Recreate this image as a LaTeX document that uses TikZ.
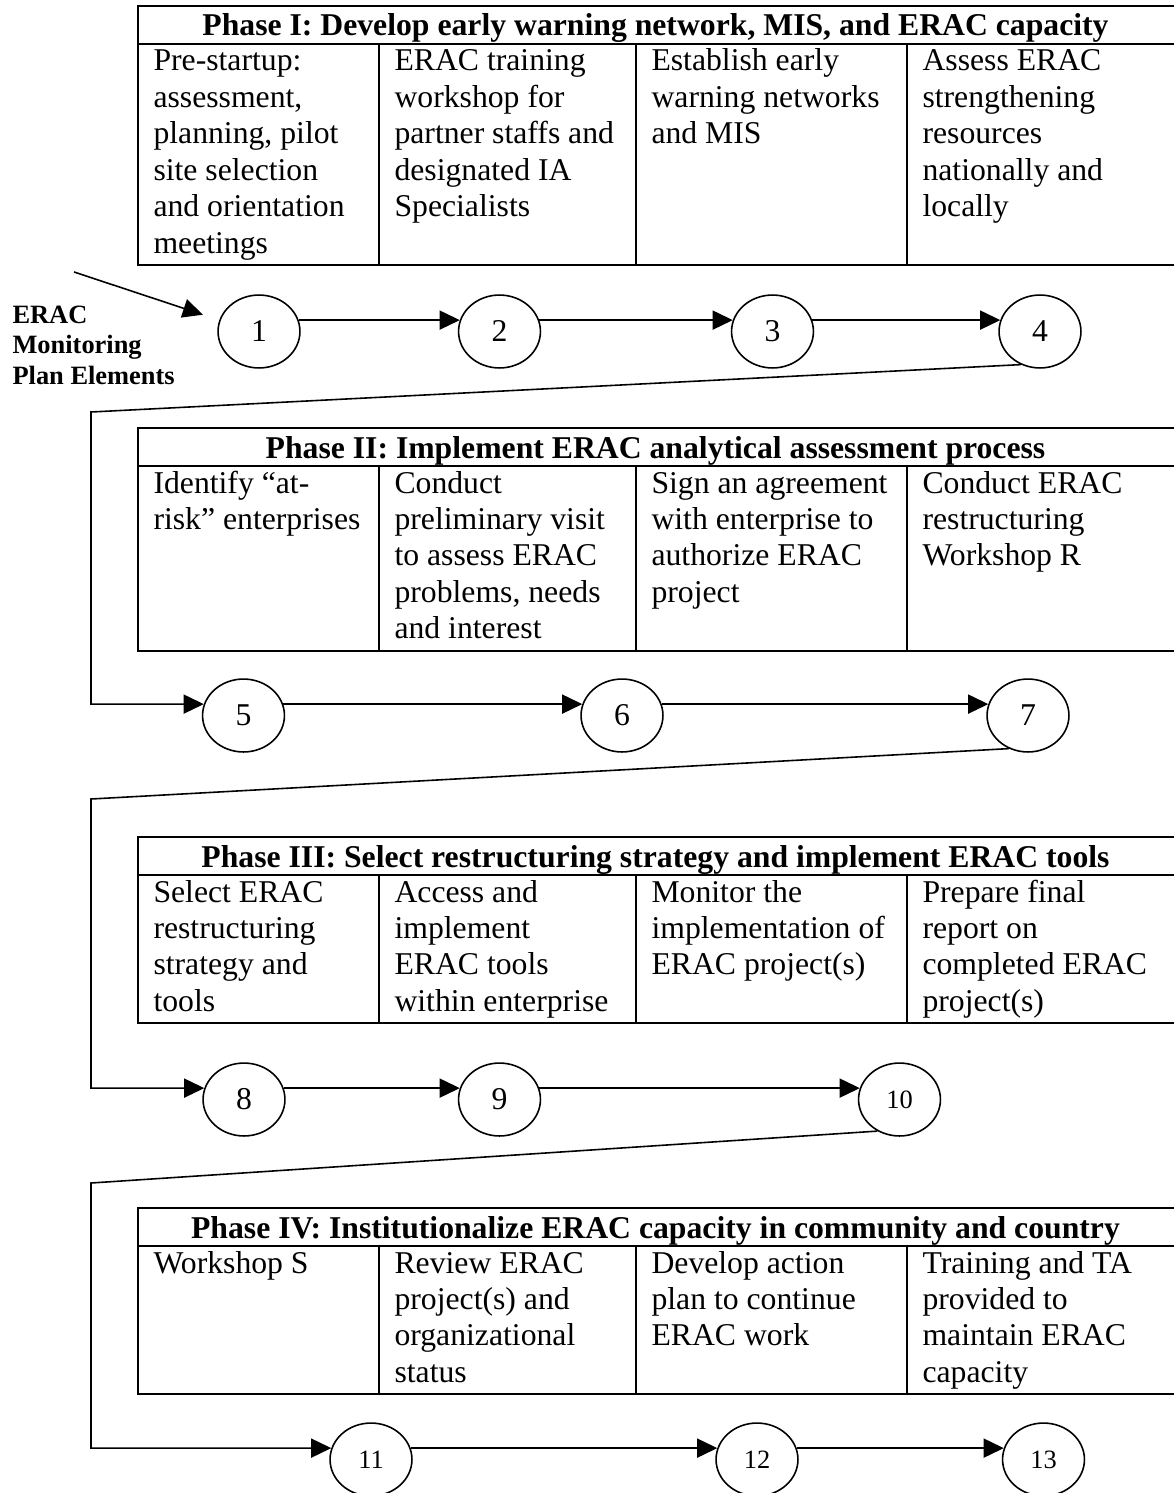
\documentclass[tikz,border=0pt]{standalone}
\usepackage{fontspec}
\setmainfont{Liberation Serif}
\usepackage{tikz}
\usetikzlibrary{positioning,shapes.geometric,arrows.meta,calc}
\tikzstyle{stage} = [ellipse, draw, line width=0.6pt, minimum width=31pt, %
   minimum height=27.6pt, inner sep=0pt, font=\fontsize{12}{13.8}\selectfont]
\tikzstyle{stagesmall} = [stage, font=\fontsize{10}{12}\selectfont]
\tikzstyle{cell} = [anchor=base west, text width=130pt, align=flush left, inner sep=0pt, %
   font=\fontsize{12}{13.8}\selectfont]
\tikzstyle{head} = [anchor=base, inner sep=0pt, font=\fontsize{12}{13.8}\selectfont\bfseries]
\tikzstyle{frame} = [draw, line width=0.8pt]
\tikzstyle{line} = [draw, line width=0.6pt, -{Triangle[length=7.6pt,width=7.2pt]}]

\begin{document}
\begin{tikzpicture}[x=0.3785pt, y=-0.3785pt]
      \useasboundingbox (0,0) rectangle (1173,1493);

      % PHASE I %%%%%%%%%%%%%%%%%%%%%%%%%%%%%%%%%%%%%%%%%%%%%%%%%%%%%%%%%%
         \draw[frame] (138,6) rectangle (1180,265);
         \draw[frame] (138,44) -- (1180,44);
         \draw[frame] (379,44) -- (379,265) (636,44) -- (636,265) (907,44) -- (907,265);
         \node[head] (head1) at (655.5,36) {Phase I: Develop early warning network, MIS, and ERAC capacity};
         \node[cell] (p1a) at (153,71) {Pre-startup:\\assessment,\\planning, pilot\\site selection\\and orientation\\meetings};
         \node[cell] (p1b) at (394,71) {ERAC training\\workshop for\\partner staffs and\\designated IA\\Specialists};
         \node[cell] (p1c) at (651,71) {Establish early\\warning networks\\and MIS};
         \node[cell] (p1d) at (922,71) {Assess ERAC\\strengthening\\resources\\nationally and\\locally};

      % PHASE II %%%%%%%%%%%%%%%%%%%%%%%%%%%%%%%%%%%%%%%%%%%%%%%%%%%%%%%%%
         \draw[frame] (138,428) rectangle (1180,651);
         \draw[frame] (138,466) -- (1180,466);
         \draw[frame] (379,466) -- (379,651) (636,466) -- (636,651) (907,466) -- (907,651);
         \node[head] (head2) at (655.5,458) {Phase II: Implement ERAC analytical assessment process};
         \node[cell] (p2a) at (153,493) {Identify “at-\\risk” enterprises};
         \node[cell] (p2b) at (394,493) {Conduct\\preliminary visit\\to assess ERAC\\problems, needs\\and interest};
         \node[cell] (p2c) at (651,493) {Sign an agreement\\with enterprise to\\authorize ERAC\\project};
         \node[cell] (p2d) at (922,493) {Conduct ERAC\\restructuring\\Workshop R};

      % PHASE III %%%%%%%%%%%%%%%%%%%%%%%%%%%%%%%%%%%%%%%%%%%%%%%%%%%%%%%%
         \draw[frame] (138,837) rectangle (1180,1023);
         \draw[frame] (138,875) -- (1180,875);
         \draw[frame] (379,875) -- (379,1023) (636,875) -- (636,1023) (907,875) -- (907,1023);
         \node[head] (head3) at (655.5,867) {Phase III: Select restructuring strategy and implement ERAC tools};
         \node[cell] (p3a) at (153,902) {Select ERAC\\restructuring\\strategy and\\tools};
         \node[cell] (p3b) at (394,902) {Access and\\implement\\ERAC tools\\within enterprise};
         \node[cell] (p3c) at (651,902) {Monitor the\\implementation of\\ERAC project(s)};
         \node[cell] (p3d) at (922,902) {Prepare final\\report on\\completed ERAC\\project(s)};

      % PHASE IV %%%%%%%%%%%%%%%%%%%%%%%%%%%%%%%%%%%%%%%%%%%%%%%%%%%%%%%%%
         \draw[frame] (138,1208) rectangle (1180,1394);
         \draw[frame] (138,1246) -- (1180,1246);
         \draw[frame] (379,1246) -- (379,1394) (636,1246) -- (636,1394) (907,1246) -- (907,1394);
         \node[head] (head4) at (655.5,1238) {Phase IV: Institutionalize ERAC capacity in community and country};
         \node[cell] (p4a) at (153,1273) {Workshop S};
         \node[cell] (p4b) at (394,1273) {Review ERAC\\project(s) and\\organizational\\status};
         \node[cell] (p4c) at (651,1273) {Develop action\\plan to continue\\ERAC work};
         \node[cell] (p4d) at (922,1273) {Training and TA\\provided to\\maintain ERAC\\capacity};

      % Plan elements
         \node[anchor=north west, align=left, inner sep=0pt, %
            font=\fontsize{10}{11.5}\selectfont\bfseries] (label) at (12,305.5) {ERAC\\Monitoring\\Plan Elements};
         \coordinate (entry) at (74,272);

         \node[stage] (c1) at (259,331.5) {1};
         \node[stage] (c2) at (499.5,331.5) {2};
         \node[stage] (c3) at (772.5,331.5) {3};
         \node[stage] (c4) at (1040,331.5) {4};

         \node[stage] (c5) at (243.5,715.5) {5};
         \node[stage] (c6) at (622,715.5) {6};
         \node[stage] (c7) at (1028,715.5) {7};

         \node[stage] (c8) at (244,1099.5) {8};
         \node[stage] (c9) at (499.5,1099.5) {9};
         \node[stagesmall] (c10) at (899.5,1099.5) {10};

         \node[stagesmall] (c11) at (371,1459.5) {11};
         \node[stagesmall] (c12) at (757,1459.5) {12};
         \node[stagesmall] (c13) at (1043.5,1459.5) {13};

         \coordinate (bend1) at (91,412);
         \coordinate (bend2) at (91,799);
         \coordinate (bend3) at (91,1183);

         % Draw edges
         \path [line, shorten >=6.5pt] (entry) -- (c1.164);
         \path [line] (c1.16) -- (c2.164);
         \path [line] (c2.16) -- (c3.164);
         \path [line] (c3.16) -- (c4.164);
         \path [line] (c4.240) -- (bend1) |- (c5.164);
         \path [line] (c5.16) -- (c6.164);
         \path [line] (c6.16) -- (c7.164);
         \path [line] (c7.240) -- (bend2) |- (c8.164);
         \path [line] (c8.16) -- (c9.164);
         \path [line] (c9.16) -- (c10.164);
         \path [line] (c10.235) -- (bend3) |- (c11.164);
         \path [line] (c11.16) -- (c12.164);
         \path [line] (c12.16) -- (c13.164);

\end{tikzpicture}
\end{document}
